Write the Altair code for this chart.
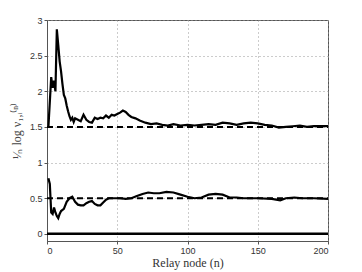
import altair as alt
import pandas as pd

upper_n = [1,2,3,4,5,6,7,8,9,10,11,12,13,14,15,16,17,18,19,20,22,24,26,28,30,32,34,36,38,40,42,44,46,48,50,52,54,56,58,60,63,66,70,74,78,82,86,90,95,100,105,110,115,120,125,130,135,140,145,150,155,160,165,170,175,180,185,190,195,200]
upper_v = [1.50,1.85,2.20,2.05,2.15,2.00,2.87,2.65,2.42,2.28,2.10,1.95,1.90,1.80,1.72,1.65,1.60,1.63,1.57,1.62,1.60,1.58,1.67,1.60,1.57,1.56,1.63,1.61,1.63,1.62,1.66,1.63,1.67,1.66,1.68,1.70,1.73,1.71,1.67,1.64,1.62,1.59,1.56,1.54,1.55,1.53,1.52,1.54,1.52,1.53,1.52,1.53,1.54,1.53,1.56,1.55,1.53,1.55,1.56,1.55,1.53,1.52,1.49,1.50,1.51,1.52,1.50,1.51,1.51,1.51]

lower_n = [1,2,3,4,5,6,7,8,9,10,12,14,16,18,20,22,24,26,28,30,32,34,36,38,40,42,44,48,52,56,60,64,68,72,76,80,85,90,95,100,105,110,115,120,125,130,135,140,150,160,166,170,176,182,190,200]
lower_v = [0.78,0.70,0.30,0.28,0.37,0.30,0.25,0.22,0.28,0.32,0.35,0.45,0.50,0.52,0.45,0.41,0.40,0.40,0.43,0.45,0.46,0.42,0.40,0.40,0.44,0.48,0.50,0.50,0.50,0.49,0.50,0.53,0.56,0.58,0.57,0.57,0.59,0.58,0.55,0.52,0.50,0.51,0.55,0.56,0.55,0.51,0.51,0.50,0.50,0.49,0.47,0.50,0.51,0.50,0.50,0.49]

ref_levels = [1.5, 0.5]
zero_level = [0.0]
x_ticks = [0, 50, 100, 150, 200]
y_ticks = [0, 0.5, 1, 1.5, 2, 2.5, 3]

df = pd.concat([
    pd.DataFrame({"n": upper_n, "v": upper_v, "s": "upper"}),
    pd.DataFrame({"n": lower_n, "v": lower_v, "s": "lower"}),
])
ref_df = pd.DataFrame({"n": 0, "x1": 200, "v": ref_levels})
zero_df = pd.DataFrame({"n": 0, "x1": 200, "v": zero_level})

xs = alt.Scale(domain=[0, 200], nice=False)
ys = alt.Scale(domain=[-0.1, 3], nice=False, zero=False)

xax = alt.Axis(values=x_ticks, title="Relay node (n)", grid=True, gridDash=[1, 3],
               gridColor="#999", labelFont="Liberation Sans", labelFontSize=9,
               labelColor="#333", titleFont="Liberation Serif", titleFontSize=12,
               titleFontWeight="normal", titleColor="#333", tickSize=3,
               tickColor="#555", domainColor="#555", labelPadding=2, titlePadding=2,
               labelOverlap=False)
yax = alt.Axis(values=y_ticks, format="~g", title="¹⁄ₙ log ν₁,ᵢ⁽ⁿ⁾", grid=True,
               gridDash=[1, 3], gridColor="#999", labelFont="Liberation Sans",
               labelFontSize=9, labelColor="#333", titleFont="Liberation Serif",
               titleFontSize=12, titleFontWeight="normal", titleColor="#444",
               tickSize=3, tickColor="#555", domainColor="#555", labelPadding=2,
               titlePadding=6, labelOverlap=False)

X = alt.X("n:Q", scale=xs, axis=xax)
Y = alt.Y("v:Q", scale=ys, axis=yax)

curves = alt.Chart(df).mark_line(color="black", strokeWidth=2.2, clip=True).encode(
    x=X, y=Y, detail="s:N",
)
refs = alt.Chart(ref_df).mark_rule(color="black", strokeWidth=2, strokeDash=[6, 4]).encode(
    x=X, x2="x1", y=Y
)
zero = alt.Chart(zero_df).mark_rule(color="black", strokeWidth=2.5).encode(
    x=X, x2="x1", y=Y
)

chart = alt.layer(curves, refs, zero).properties(
    width=281, height=221,
    autosize=alt.AutoSizeParams(type="none"),
    padding={"left": 39, "top": 12, "right": 20, "bottom": 30},
).configure_view(stroke="#555", strokeWidth=1)

chart.save("out.html", embed_options={"renderer": "svg", "actions": False})
